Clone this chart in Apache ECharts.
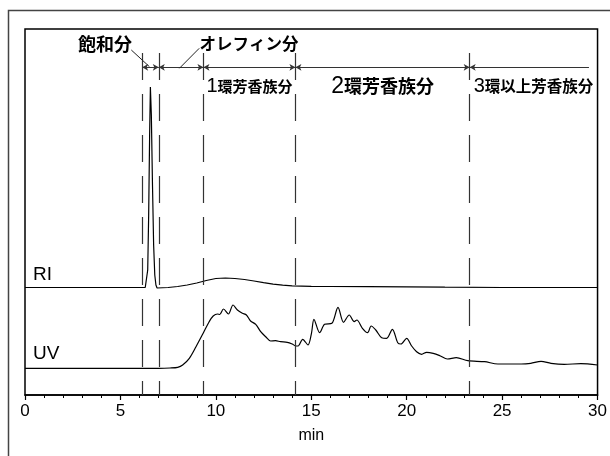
<!DOCTYPE html>
<html>
<head>
<meta charset="utf-8">
<script src="https://cdn.jsdelivr.net/npm/echarts@6.0.0/dist/echarts.min.js"></script>
<style>
  html, body { margin: 0; padding: 0; background: #fff; }
  #main { width: 610px; height: 456px; }
</style>
</head>
<body>
<div id="main"></div>
<script>
// RI trace (time in min, signal in arbitrary units)
var riTime = [0, 6.0, 6.3, 6.38, 6.43, 6.48, 6.53, 6.57, 6.62, 6.68, 6.74, 6.8, 6.86, 6.92, 7.0,
  7.5, 8.0, 8.5, 9.0, 9.5, 10.0, 10.5, 11.0, 11.5, 12.0, 12.5, 13.0, 13.5, 14.0,
  15.0, 16.0, 18.0, 20.0, 22.0, 25.0, 30.0];
var riSignal = [107.5, 107.5, 107.5, 108, 125, 180, 260, 308, 280, 210, 150, 120, 110, 107, 106.8,
  107.5, 108.5, 110, 112, 114.5, 116.5, 117, 116.5, 115.5, 114, 112.3, 110.8, 109.8, 109.2,
  108.6, 108.5, 108.4, 108.1, 107.8, 107.5, 107.5];

// UV trace
var uvTime = [0, 7.0, 7.6, 8.0, 8.26, 8.61, 8.96, 9.35, 9.65, 9.86, 10.09, 10.2, 10.4, 10.66, 10.9,
  11.13, 11.39, 11.6, 11.82, 12.09, 12.35, 12.61, 12.87, 13.13, 13.39, 13.74, 14.0, 14.2, 14.31,
  14.55, 14.83, 15.01, 15.14, 15.44, 15.7, 16.08, 16.4, 16.69, 16.99, 17.25, 17.39, 17.68, 17.95,
  18.14, 18.38, 18.69, 18.95, 19.25, 19.53, 19.7, 20.0, 20.26, 20.52, 20.78, 21.04, 21.39, 21.74,
  22.13, 22.6, 23.2, 24.08, 24.78, 26.0, 26.5, 27.04, 27.56, 28.26, 29.13, 30];
var uvSignal = [26.7, 26.7, 27, 27.7, 30, 36.7, 48.3, 62.3, 73.3, 79, 81, 80.5, 86, 81, 90,
  85, 81.7, 80, 74, 70.7, 63.3, 58.3, 54, 54.3, 53.3, 52.7, 51, 49, 49,
  55.7, 50, 61.7, 75.7, 62.3, 70.7, 71.7, 87.7, 72.7, 80, 73.3, 75, 66.7, 62.3,
  69, 65, 57.3, 56.7, 65.7, 52.3, 51, 56.7, 49, 43.3, 40.7, 42.7, 41.7, 39.3,
  36, 37.3, 34.3, 33.3, 31, 31, 31.7, 33.7, 31.7, 30.7, 31.3, 30];

// fraction boundaries (min)
var boundaries = [6.14, 7.01, 9.35, 14.17, 23.3];
var arrowEnd = 29.55;
var regionNames = [['1', '環芳香族分'], ['2', '環芳香族分'], ['3', '環以上芳香族分']];
var xTicks = [0, 5, 10, 15, 20, 25, 30];

var FONT = '"Liberation Sans", Arial, "Noto Sans CJK JP", sans-serif';
var CJK = '"Noto Sans CJK JP", sans-serif';
var dashTop = 342, arrowY = 327.7;

function pairs(xs, ys) {
  return xs.map(function (x, i) { return [x, ys[i]]; });
}

var annotLines = [];
boundaries.forEach(function (b) {
  annotLines.push([
    { coord: [b, dashTop], symbol: 'none', lineStyle: { type: [27, 14], color: '#333', width: 1.2 } },
    { coord: [b, 0], symbol: 'none' }
  ]);
});
boundaries.forEach(function (b, i) {
  var last = i === boundaries.length - 1;
  var end = last ? arrowEnd : boundaries[i + 1];
  annotLines.push([
    { coord: [b, arrowY], symbol: 'arrow', symbolSize: [5, 6], lineStyle: { type: 'solid', color: '#333', width: 1 } },
    { coord: [end, arrowY], symbol: last ? 'none' : 'arrow', symbolSize: [5, 6] }
  ]);
});
// leader lines from the two top labels
annotLines.push([
  { coord: [5.57, 345], symbol: 'none', lineStyle: { type: 'solid', color: '#222', width: 1 } },
  { coord: [6.52, 328.3], symbol: 'none' }
]);
annotLines.push([
  { coord: [9.13, 346.7], symbol: 'none', lineStyle: { type: 'solid', color: '#222', width: 1 } },
  { coord: [8.09, 326.7], symbol: 'none' }
]);

var chart = echarts.init(document.getElementById('main'), null, { renderer: 'canvas' });

chart.setOption({
  animation: false,
  backgroundColor: '#fff',
  grid: { left: 25, right: 10, top: 29, bottom: 61, show: true, borderColor: '#000', borderWidth: 1.5 },
  xAxis: {
    type: 'value', min: 0, max: 30, interval: 5,
    name: 'min', nameLocation: 'middle', nameGap: 33,
    nameTextStyle: { fontFamily: FONT, fontSize: 16, color: '#000' },
    axisLine: { lineStyle: { color: '#000', width: 1.5 } },
    axisTick: { length: 5, lineStyle: { color: '#000', width: 1.2 } },
    minorTick: { show: true, splitNumber: 5, length: 3, lineStyle: { color: '#000', width: 1 } },
    axisLabel: {
      fontFamily: FONT, fontSize: 17, color: '#000', margin: 8,
      formatter: function (v) { return xTicks.indexOf(v) >= 0 ? String(v) : ''; }
    },
    splitLine: { show: false }
  },
  yAxis: {
    type: 'value', min: 0, max: 366,
    axisLine: { show: false }, axisTick: { show: false }, axisLabel: { show: false },
    splitLine: { show: false }
  },
  series: [
    {
      name: 'RI', type: 'line', data: pairs(riTime, riSignal), showSymbol: false,
      lineStyle: { color: '#000', width: 1.2 }, z: 3
    },
    {
      name: 'UV', type: 'line', data: pairs(uvTime, uvSignal), showSymbol: false, smooth: 0.3,
      lineStyle: { color: '#000', width: 1.2 }, z: 3
    },
    {
      name: 'annot', type: 'line', data: [], silent: true,
      markLine: { silent: true, animation: false, label: { show: false }, data: annotLines }
    }
  ]
});

function px(x, y) { return chart.convertToPixel({ gridIndex: 0 }, [x, y]); }

var graphics = [
  { type: 'rect', shape: { x: 8.5, y: 10.5, width: 640, height: 480 },
    style: { fill: 'none', stroke: '#444', lineWidth: 1.5 }, silent: true },
  { type: 'text', x: 105, y: 44,
    style: { text: '飽和分', font: 'bold 18px ' + CJK, fill: '#000', textAlign: 'center', textVerticalAlign: 'middle' } },
  { type: 'text', x: 249, y: 44,
    style: { text: 'オレフィン分', font: 'bold 16.5px ' + CJK, fill: '#000', textAlign: 'center', textVerticalAlign: 'middle' } },
  { type: 'text', x: 33, y: 275,
    style: { text: 'RI', font: '19px ' + FONT, fill: '#000', textAlign: 'left', textVerticalAlign: 'middle' } },
  { type: 'text', x: 33, y: 354,
    style: { text: 'UV', font: '19px ' + FONT, fill: '#000', textAlign: 'left', textVerticalAlign: 'middle' } }
];

var labelSizes = [15, 18, 15.5];
regionNames.forEach(function (name, i) {
  var left = px(boundaries[i + 2], 0)[0];
  var right = i + 3 < boundaries.length ? px(boundaries[i + 3], 0)[0] : null;
  var sz = labelSizes[i];
  var g = {
    type: 'text', y: 86.5,
    style: {
      text: '{n|' + name[0] + '}{k|' + name[1] + '}',
      textVerticalAlign: 'middle',
      rich: {
        n: { fontFamily: FONT, fontSize: Math.round(sz * 1.3), fill: '#000', color: '#000' },
        k: { fontFamily: CJK, fontSize: sz, fontWeight: 'bold', fill: '#000', color: '#000' }
      }
    }
  };
  if (right !== null) { g.x = (left + right) / 2; g.style.textAlign = 'center'; }
  else { g.x = left + 4; g.style.textAlign = 'left'; }
  graphics.push(g);
});

chart.setOption({ graphic: graphics });
</script>
</body>
</html>
